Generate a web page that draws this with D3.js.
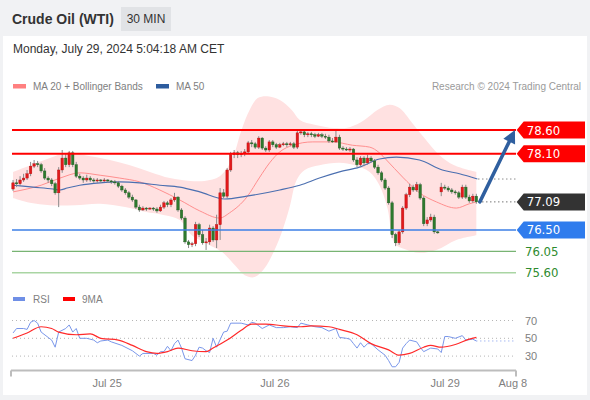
<!DOCTYPE html>
<html><head><meta charset="utf-8">
<script src="https://cdn.jsdelivr.net/npm/d3@7/dist/d3.min.js"></script>
<style>
html,body{margin:0;padding:0;background:#f1f2f4;overflow:hidden}
svg{display:block}
text{font-family:"Liberation Sans",Arial,Helvetica,sans-serif}
</style></head><body>
<svg id="chart" width="590" height="400"></svg>
<script>
// ---------- DATA ----------
const title = "Crude Oil (WTI)";
const timeframe = "30 MIN";
const dateText = "Monday, July 29, 2024 5:04:18 AM CET";
const legendPrice = ["MA 20 + Bollinger Bands", "MA 50"];
const legendRsi = ["RSI", "9MA"];
const copyright = "Research \u00A9 2024 Trading Central";

const openP = [77.36,77.49,77.47,77.55,77.59,77.68,77.84,77.89,77.87,77.74,
77.59,77.55,77.47,77.28,77.76,78.01,77.87,78.12,77.87,77.63,
77.59,77.55,77.59,77.55,77.53,77.55,77.53,77.55,77.53,77.51,
77.49,77.42,77.34,77.28,77.19,77.13,76.98,76.92,76.96,76.94,
76.96,76.94,76.90,76.98,77.07,77.03,77.13,77.19,76.92,76.75,
76.25,76.19,76.21,76.61,76.40,76.23,76.25,76.54,76.29,76.61,
77.28,77.21,77.76,78.08,78.12,78.08,78.10,78.14,78.33,78.31,
78.24,78.43,78.22,78.18,78.35,78.29,78.24,78.29,78.31,78.29,
78.31,78.24,78.54,78.56,78.50,78.52,78.50,78.47,78.50,78.47,
78.45,78.37,78.35,78.45,78.22,78.20,78.18,78.20,77.97,77.87,
78.01,77.91,78.01,77.95,77.82,77.70,77.55,77.38,77.07,76.40,
76.23,76.46,76.96,77.24,77.40,77.34,77.45,77.17,76.63,76.71,
76.77,76.46,77.30,77.40,77.38,77.34,77.30,77.28,77.19,77.40,
77.19,77.11,77.21];
const highP = [77.55,77.57,77.63,77.68,77.76,77.93,77.97,77.95,77.91,77.80,
77.63,77.59,77.51,77.82,78.18,78.10,78.16,78.16,77.93,77.68,
77.63,77.66,77.63,77.59,77.59,77.57,77.59,77.57,77.55,77.55,
77.53,77.45,77.38,77.32,77.24,77.15,77.03,77.00,76.98,76.98,
76.98,76.98,77.03,77.11,77.11,77.17,77.28,77.21,76.96,76.79,
76.29,76.25,76.67,76.65,76.50,76.33,76.61,76.58,76.82,77.38,
77.36,77.80,78.14,78.18,78.16,78.16,78.20,78.37,78.39,78.35,
78.47,78.45,78.26,78.39,78.39,78.33,78.33,78.35,78.35,78.35,
78.35,78.58,78.62,78.60,78.56,78.56,78.54,78.54,78.54,78.52,
78.50,78.43,78.58,78.50,78.26,78.24,78.24,78.22,78.03,78.05,
78.05,78.08,78.05,77.99,77.87,77.74,77.59,77.42,77.11,76.44,
76.50,77.00,77.28,77.47,77.45,77.51,77.49,77.21,76.77,76.84,
76.82,76.48,77.49,77.45,77.42,77.38,77.34,77.32,77.45,77.45,
77.24,77.26,77.26];
const lowP = [77.32,77.40,77.42,77.51,77.55,77.63,77.80,77.82,77.70,77.55,
77.49,77.42,77.24,76.98,77.70,77.82,77.82,77.82,77.59,77.55,
77.49,77.51,77.51,77.49,77.49,77.49,77.51,77.49,77.47,77.45,
77.38,77.30,77.24,77.15,77.09,76.94,76.88,76.90,76.90,76.92,
76.90,76.86,76.88,76.94,76.98,76.98,77.09,76.88,76.71,76.21,
76.12,76.14,76.16,76.35,76.19,76.08,76.19,76.25,76.12,76.29,
77.17,77.17,77.72,78.01,78.01,78.03,78.05,78.10,78.24,78.20,
78.20,78.18,78.14,78.14,78.24,78.20,78.22,78.26,78.24,78.26,
78.20,78.20,78.50,78.45,78.45,78.45,78.43,78.45,78.43,78.41,
78.33,78.33,78.33,78.18,78.16,78.16,78.14,77.93,77.82,77.82,
77.84,77.87,77.91,77.78,77.66,77.51,77.34,77.03,76.33,76.16,
76.19,76.42,76.92,77.19,77.30,77.30,77.13,76.58,76.58,76.67,
76.42,76.42,77.21,77.34,77.30,77.26,77.24,77.15,77.15,77.15,
77.07,77.07,77.05];
const closeP = [77.49,77.47,77.55,77.59,77.68,77.84,77.89,77.87,77.74,77.59,
77.55,77.47,77.28,77.76,78.01,77.87,78.12,77.87,77.63,77.59,
77.55,77.59,77.55,77.53,77.55,77.53,77.55,77.53,77.51,77.49,
77.42,77.34,77.28,77.19,77.13,76.98,76.92,76.96,76.94,76.96,
76.94,76.90,76.98,77.07,77.03,77.13,77.19,76.92,76.75,76.25,
76.19,76.21,76.61,76.40,76.23,76.25,76.54,76.29,76.61,77.28,
77.21,77.76,78.08,78.12,78.08,78.10,78.14,78.33,78.31,78.24,
78.43,78.22,78.18,78.35,78.29,78.24,78.29,78.31,78.29,78.31,
78.24,78.54,78.56,78.50,78.52,78.50,78.47,78.50,78.47,78.45,
78.37,78.35,78.45,78.22,78.20,78.18,78.20,77.97,77.87,78.01,
77.91,78.01,77.95,77.82,77.70,77.55,77.38,77.07,76.40,76.23,
76.46,76.96,77.24,77.40,77.34,77.45,77.17,76.63,76.71,76.77,
76.46,76.44,77.40,77.38,77.34,77.30,77.28,77.19,77.40,77.19,
77.11,77.21,77.09];

const ma20Idx = [0,8,13.4,19,24.8,30.4,36.1,41.8,47.5,53.2,58.9,61.7,66.6,70.3,73.1,76,79.7,85.4,91,96.7,101.6,104.4,106.4,111,115.8,120.6,126.3,130,132];
const ma20Val = [77.30,77.44,77.59,77.70,77.65,77.59,77.51,77.34,77.13,76.90,76.75,76.86,77.19,77.61,77.91,78.14,78.28,78.35,78.35,78.28,78.24,78.12,77.97,77.61,77.28,77.09,76.96,77.05,77.09];
const ma50Idx = [0,5.7,11.4,13.4,15.4,19,24.8,30.4,36.1,41.8,47.5,53.2,60.3,66.6,76,81.7,87.3,93,98.7,104.4,109.2,115.8,122.3,127.2,132.3];
const ma50Val = [77.44,77.40,77.36,77.34,77.38,77.44,77.49,77.51,77.49,77.44,77.40,77.30,77.15,77.21,77.34,77.44,77.59,77.72,77.82,77.99,78.03,77.97,77.76,77.68,77.57];
const bbUpIdx = [0,5,10.5,15.4,22,27.6,33.3,39,44.7,50.4,54.6,58.9,62.3,65.1,67.4,69.7,72.5,76,79.4,81.7,85.9,91.6,95.9,100.1,103.8,107.3,110.1,113.5,117.2,121.5,125.7,132];
const bbUpVal = [77.72,77.86,78.01,78.12,78.05,77.97,77.86,77.72,77.59,77.53,77.53,77.63,77.97,78.60,79.02,79.27,79.31,79.23,79.02,78.81,78.71,78.64,78.66,78.81,79.02,79.13,79.06,78.77,78.43,78.07,77.86,77.72];
const bbLoIdx = [0,4.8,10.5,17.6,24.8,31.9,37.6,43.2,47.5,50.9,53.2,56,59.5,63.2,66,68.8,71.7,74.5,76.8,78.8,80.8,83.1,87.3,93,97.3,101.6,104.4,106.7,108.7,111.5,115.8,120.6,126.3,132];
const bbLoVal = [77.17,77.07,77.02,77.02,77.05,76.98,76.88,76.81,76.71,76.39,76.29,76.18,76.04,75.76,75.55,75.51,75.70,76.08,76.50,76.98,77.55,77.76,77.86,77.91,77.86,77.72,77.44,76.95,76.22,76.10,76.02,76.08,76.29,76.39];

const rsiIdx = [0,1,3,4,5,6,7,8,10,11,12,13,15,16,17,18,19,21,23,24,25,27,28,31,34,36,37,40,41,42,43,44,45,46,47,48,49,51,52,53,54,55,56,57,58,60,61,62,65,67,68,69,71,73,75,77,79,81,82,84,86,88,90,92,93,95,96,97,98,99,100,101,102,104,106,107,108,109,110,111,112,113,115,116,117,119,121,122,123,124,126,128,129,131,132];
const rsiVal = [56,61,61,60,68,70,67,57,51,48,40,57,61,65,57,61,50,50,48,45,47,48,46,42,36,30,33,33,31,35,35,41,36,44,48,39,27,25,31,40,39,36,34,50,40,57,58,67,67,65,68,67,61,65,62,62,63,62,67,65,63,62,58,61,51,50,49,44,39,45,40,44,44,37,31,25,18,18,23,39,44,48,46,40,35,39,38,34,52,52,50,53,48,49,47];
const ma9Idx = [0,4,8,11,13,18,22,25,30,34,38,41,44,47,51,55,57,61,65,68,72,77,82,85,90,93,98,102,107,110,113,117,119,122,126,130,132];
const ma9Val = [50,56,63,61,57,54,55,50,48,42,35,33,35,39,36,35,39,48,59,66,66,64,63,64,63,60,54,44,37,31,33,40,42,40,43,49,51];
const rsiLevels = [70, 50, 30];

const resistance = [78.60, 78.10];
const lastPrice = 77.09;
const pivot = 76.50;
const supports = [76.05, 75.60];

const tickIdx = [26.8, 74.6, 123.1, 142.4];
const tickLabels = ["Jul 25", "Jul 26", "Jul 29", "Aug 8"];

// ---------- LAYOUT ----------
const W = 590, H = 400;
const svg = d3.select("#chart");
const x = d3.scaleLinear().domain([-0.3, 143.3]).range([12, 516]);
const y = d3.scaleLinear().domain([75.0, 79.5]).range([301.36, 87.16]);
const yR = d3.scaleLinear().domain([0, 100]).range([382.8, 293.8]);
const n = closeP.length;
const lastI = n - 1;
const endIdx = 143.3;

// backgrounds
svg.append("rect").attr("width", W).attr("height", H).attr("fill", "#f1f2f4");
svg.append("rect").attr("x", 3).attr("y", 36).attr("width", 584).attr("height", 359).attr("fill", "#ffffff");

// header
svg.append("text").attr("x", 12).attr("y", 24).attr("font-size", 14).attr("font-weight", "bold").attr("fill", "#333").text(title);
svg.append("rect").attr("x", 121).attr("y", 7).attr("width", 50).attr("height", 24).attr("fill", "#e1e3e6");
svg.append("text").attr("x", 146).attr("y", 23).attr("text-anchor", "middle").attr("font-size", 12).attr("fill", "#333").text(timeframe);
svg.append("text").attr("x", 13).attr("y", 52.5).attr("font-size", 12).attr("fill", "#333").text(dateText);

// price legend
svg.append("rect").attr("x", 13).attr("y", 84).attr("width", 13).attr("height", 4.5).attr("fill", "#ff8080");
svg.append("text").attr("x", 33).attr("y", 89.5).attr("font-size", 10).attr("fill", "#808080").text(legendPrice[0]);
svg.append("rect").attr("x", 156).attr("y", 84).attr("width", 13).attr("height", 4.5).attr("fill", "#2d5c9e");
svg.append("text").attr("x", 176).attr("y", 89.5).attr("font-size", 10).attr("fill", "#808080").text(legendPrice[1]);
svg.append("text").attr("x", 581).attr("y", 89.5).attr("text-anchor", "end").attr("font-size", 10).attr("fill", "#9a9a9a").text(copyright);

// Bollinger band
const pts = (ix, vs) => ix.map((v, k) => [x(v), y(vs[k])]);
const upPts = pts(bbUpIdx, bbUpVal);
const loPts = pts(bbLoIdx, bbLoVal).reverse();
const cr = d3.line().curve(d3.curveCatmullRom.alpha(0.5));
const bandPath = cr(upPts) + "L" + cr(loPts).slice(1) + "Z";
svg.append("path").attr("d", bandPath).attr("fill", "#ffe1e1").attr("stroke", "none");

// MA lines
const smooth = d3.line().curve(d3.curveMonotoneX);
svg.append("path").attr("d", smooth(pts(ma20Idx, ma20Val))).attr("fill", "none").attr("stroke", "#ff8f8f").attr("stroke-width", 1);
svg.append("path").attr("d", smooth(pts(ma50Idx, ma50Val))).attr("fill", "none").attr("stroke", "#4b6fb0").attr("stroke-width", 1.1);

// candles
const bw = 2.5;
const candles = d3.range(n).map(i => ({i, o: openP[i], h: highP[i], l: lowP[i], c: closeP[i]}));
const cg = svg.append("g");
cg.selectAll("line.w").data(candles).join("line")
  .attr("x1", d => x(d.i)).attr("x2", d => x(d.i))
  .attr("y1", d => y(d.h)).attr("y2", d => y(d.l))
  .attr("stroke", "#8a8a8a").attr("stroke-width", 1);
cg.selectAll("rect.b").data(candles).join("rect")
  .attr("x", d => x(d.i) - bw / 2)
  .attr("y", d => y(Math.max(d.o, d.c)))
  .attr("width", bw)
  .attr("height", d => Math.max(1, Math.abs(y(d.o) - y(d.c))))
  .attr("fill", d => d.c > d.o ? "#e3191b" : (d.c < d.o ? "#2e7a2e" : "#444"))
  .attr("stroke", d => d.c > d.o ? "#b01010" : (d.c < d.o ? "#1f5a1f" : "#444"))
  .attr("stroke-width", 0.4);

// level lines
const x0 = x(-0.3), x1 = x(endIdx);
svg.append("line").attr("x1", x0).attr("x2", x1).attr("y1", y(supports[1])).attr("y2", y(supports[1])).attr("stroke", "#a9d5a3").attr("stroke-width", 1.5);
svg.append("line").attr("x1", x0).attr("x2", x1).attr("y1", y(supports[0])).attr("y2", y(supports[0])).attr("stroke", "#78b473").attr("stroke-width", 1.2);
svg.append("line").attr("x1", x0).attr("x2", x1).attr("y1", y(pivot)).attr("y2", y(pivot)).attr("stroke", "#3d7fe6").attr("stroke-width", 1.5);
resistance.forEach(v => {
  svg.append("line").attr("x1", x0).attr("x2", x1).attr("y1", y(v)).attr("y2", y(v)).attr("stroke", "#ff0000").attr("stroke-width", 2);
});

// dotted extensions
svg.append("line").attr("x1", x(lastI) + 2).attr("x2", x1).attr("y1", y(ma50Val[ma50Val.length - 1])).attr("y2", y(ma50Val[ma50Val.length - 1]))
  .attr("stroke", "#555").attr("stroke-width", 1).attr("stroke-dasharray", "1,3");
svg.append("line").attr("x1", x(lastI) + 2).attr("x2", x1).attr("y1", y(lastPrice)).attr("y2", y(lastPrice))
  .attr("stroke", "#333").attr("stroke-width", 1).attr("stroke-dasharray", "1,3");

// arrow
(function () {
  const sx = x(lastI) + 3.5, sy = y(lastPrice);
  const tx = x(143), ty = y(resistance[0]);
  const dx = tx - sx, dy = ty - sy, L = Math.hypot(dx, dy);
  const ux = dx / L, uy = dy / L, px = -uy, py = ux;
  const hl = 13, hw = 6.5;
  const bx = tx - ux * hl, by = ty - uy * hl;
  svg.append("line").attr("x1", sx).attr("y1", sy).attr("x2", bx + ux * 2).attr("y2", by + uy * 2)
    .attr("stroke", "#2f5f9f").attr("stroke-width", 3.5).attr("stroke-linecap", "round");
  svg.append("path").attr("d", `M${tx},${ty}L${bx + px * hw},${by + py * hw}L${bx - px * hw},${by - py * hw}Z`).attr("fill", "#2f5f9f");
})();

// price labels
function tagBox(v, fill) {
  const cy = y(v), tip = x1 + 0.7, right = 585, hh = 8.5;
  svg.append("path").attr("d", `M${tip},${cy}L${tip + 7},${cy - hh}L${right},${cy - hh}L${right},${cy + hh}L${tip + 7},${cy + hh}Z`).attr("fill", fill);
  svg.append("text").attr("x", tip + 10).attr("y", cy + 4.5).attr("font-size", 13)
    .style("font-family", '"Liberation Sans Narrow","DejaVu Sans Condensed",Arial,sans-serif')
    .attr("fill", "#fff").text(v.toFixed(2));
}
resistance.forEach(v => tagBox(v, "#ff0000"));
tagBox(lastPrice, "#333333");
tagBox(pivot, "#2f7ced");
supports.forEach(v => {
  svg.append("text").attr("x", x1 + 9).attr("y", y(v) + 4.5).attr("font-size", 13)
    .style("font-family", '"Liberation Sans Narrow","DejaVu Sans Condensed",Arial,sans-serif')
    .attr("fill", "#2e8b2e").text(v.toFixed(2));
});

// ---------- RSI PANEL ----------
svg.append("rect").attr("x", 13).attr("y", 297).attr("width", 12).attr("height", 4).attr("fill", "#6f8fe6");
svg.append("text").attr("x", 33).attr("y", 302.5).attr("font-size", 10).attr("fill", "#808080").text(legendRsi[0]);
svg.append("rect").attr("x", 63).attr("y", 297).attr("width", 12).attr("height", 4).attr("fill", "#ff0000");
svg.append("text").attr("x", 82).attr("y", 302.5).attr("font-size", 10).attr("fill", "#808080").text(legendRsi[1]);

rsiLevels.forEach(v => {
  svg.append("line").attr("x1", x0).attr("x2", x1).attr("y1", yR(v)).attr("y2", yR(v))
    .attr("stroke", "#b5b5b5").attr("stroke-width", 1).attr("stroke-dasharray", "1,3");
  svg.append("text").attr("x", 525).attr("y", yR(v) + 4).attr("font-size", 11).attr("fill", "#808080").text(v);
});

const rsiLine = d3.line().x(d => x(d[0])).y(d => yR(d[1]));
svg.append("path").attr("d", rsiLine(rsiIdx.map((v, k) => [v, rsiVal[k]]))).attr("fill", "none").attr("stroke", "#7a97ea").attr("stroke-width", 1);
svg.append("line").attr("x1", x(rsiIdx[rsiIdx.length - 1])).attr("x2", x1)
  .attr("y1", yR(rsiVal[rsiVal.length - 1])).attr("y2", yR(rsiVal[rsiVal.length - 1]))
  .attr("stroke", "#7a97ea").attr("stroke-width", 1).attr("stroke-dasharray", "1,3");
const ma9Line = d3.line().x(d => x(d[0])).y(d => yR(d[1])).curve(d3.curveMonotoneX);
svg.append("path").attr("d", ma9Line(ma9Idx.map((v, k) => [v, ma9Val[k]]))).attr("fill", "none").attr("stroke", "#ff2a2a").attr("stroke-width", 1.2);

// x axis
const axY = 370.5;
svg.append("line").attr("x1", x0 - 1).attr("x2", x1).attr("y1", axY).attr("y2", axY).attr("stroke", "#bdbdbd").attr("stroke-width", 2);
[x0 - 1, x1].forEach(px => svg.append("line").attr("x1", px).attr("x2", px).attr("y1", axY).attr("y2", axY + 6).attr("stroke", "#bdbdbd").attr("stroke-width", 2));
tickIdx.forEach((t, k) => {
  svg.append("text").attr("x", x(t)).attr("y", 387).attr("text-anchor", "middle").attr("font-size", 11).attr("fill", "#808080").text(tickLabels[k]);
});
</script>
</body></html>
